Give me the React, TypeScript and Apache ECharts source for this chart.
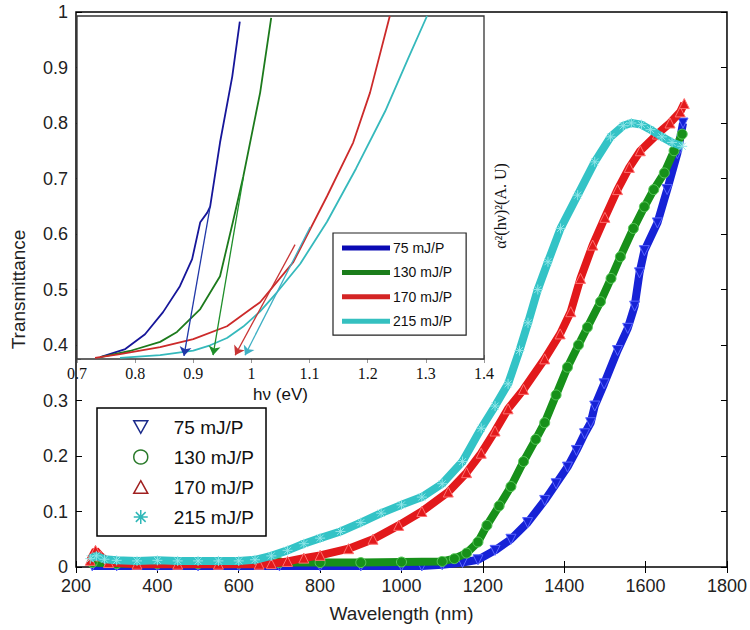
import React, { useEffect, useRef } from "react";
import * as echarts from "echarts";

// ---------- main plot: transmittance vs wavelength ----------
const mainNames = ["75 mJ/P", "130 mJ/P", "170 mJ/P", "215 mJ/P"];

const t75: [number, number][] = [
  [240, 0.002], [300, 0.002], [400, 0.002], [500, 0.002], [600, 0.002], [700, 0.002],
  [800, 0.002], [900, 0.002], [1000, 0.002], [1050, 0.002], [1100, 0.004], [1150, 0.008],
  [1188, 0.013], [1230, 0.03], [1269, 0.05], [1310, 0.08], [1352, 0.12], [1380, 0.15],
  [1408, 0.18], [1430, 0.21], [1450, 0.24], [1465, 0.26], [1475, 0.29], [1498, 0.33],
  [1531, 0.39], [1556, 0.43], [1573, 0.47], [1585, 0.53], [1597, 0.57], [1629, 0.62],
  [1653, 0.68], [1678, 0.745], [1692, 0.8],
];
const t130: [number, number][] = [
  [240, 0.008], [300, 0.006], [400, 0.006], [500, 0.006], [600, 0.007], [700, 0.008],
  [800, 0.008], [900, 0.008], [1000, 0.009], [1100, 0.01], [1130, 0.015], [1160, 0.025],
  [1188, 0.045], [1210, 0.075], [1240, 0.11], [1269, 0.145], [1300, 0.19], [1330, 0.23],
  [1352, 0.26], [1380, 0.31], [1408, 0.36], [1435, 0.4], [1457, 0.432], [1489, 0.478],
  [1515, 0.52], [1538, 0.559], [1570, 0.61], [1597, 0.649], [1620, 0.68], [1646, 0.71],
  [1670, 0.75], [1690, 0.78],
];
const t170: [number, number][] = [
  [235, 0.012], [248, 0.03], [260, 0.02], [280, 0.008], [350, 0.005], [450, 0.005],
  [550, 0.005], [650, 0.005], [680, 0.006], [720, 0.01], [760, 0.016], [800, 0.021],
  [870, 0.033], [930, 0.05], [993, 0.075], [1050, 0.1], [1115, 0.135], [1160, 0.17],
  [1196, 0.205], [1230, 0.245], [1262, 0.285], [1300, 0.32], [1352, 0.375], [1390, 0.42],
  [1416, 0.46], [1440, 0.52], [1470, 0.58], [1500, 0.63], [1531, 0.68], [1560, 0.72],
  [1587, 0.75], [1629, 0.78], [1660, 0.8], [1685, 0.82], [1695, 0.835],
];
const t215: [number, number][] = [
  [235, 0.015], [250, 0.02], [270, 0.014], [300, 0.012], [350, 0.011], [400, 0.012],
  [450, 0.011], [500, 0.011], [550, 0.011], [600, 0.011], [640, 0.013], [680, 0.02],
  [720, 0.03], [760, 0.042], [800, 0.052], [850, 0.064], [900, 0.08], [950, 0.097],
  [1000, 0.112], [1050, 0.126], [1100, 0.15], [1150, 0.19], [1196, 0.25], [1230, 0.29],
  [1262, 0.33], [1290, 0.39], [1311, 0.44], [1335, 0.5], [1360, 0.55], [1391, 0.61],
  [1433, 0.67], [1475, 0.73], [1514, 0.775], [1545, 0.795], [1565, 0.8], [1590, 0.797],
  [1612, 0.788], [1640, 0.775], [1665, 0.765], [1690, 0.758],
];
const mainData = [t75, t130, t170, t215];

// ---------- inset: alpha^2 (h nu)^2 vs photon energy ----------
const insetNames = ["i75 mJ/P", "i130 mJ/P", "i170 mJ/P", "i215 mJ/P"];
const a75: [number, number][] = [
  [0.74, 0.05], [0.783, 0.26], [0.817, 0.65], [0.848, 1.23], [0.877, 1.91], [0.898, 2.62],
  [0.912, 3.59], [0.924, 3.84], [0.929, 4.0], [0.946, 5.68], [0.967, 7.41], [0.98, 8.85],
];
const a130: [number, number][] = [
  [0.74, 0.05], [0.791, 0.21], [0.843, 0.45], [0.872, 0.71], [0.912, 1.31], [0.946, 2.17],
  [0.968, 3.59], [0.986, 4.79], [1.015, 6.99], [1.034, 8.95],
];
const a170: [number, number][] = [
  [0.731, 0.03], [0.774, 0.13], [0.843, 0.31], [0.9, 0.52], [0.958, 0.86], [1.015, 1.49],
  [1.072, 2.54], [1.13, 4.27], [1.175, 5.68], [1.204, 6.99], [1.238, 9.0],
];
const a215: [number, number][] = [
  [0.774, 0.03], [0.843, 0.1], [0.9, 0.22], [0.929, 0.36], [0.958, 0.55], [0.986, 0.85],
  [1.015, 1.25], [1.044, 1.75], [1.084, 2.5], [1.13, 3.6], [1.18, 5.0], [1.23, 6.5],
  [1.27, 7.9], [1.302, 9.0],
];
const insetData = [a75, a130, a170, a215];

// tangent (band-gap) arrows: [start, end]
const arrows: [number, number][][] = [
  [[0.929, 4.0], [0.884, 0.08]],
  [[0.986, 4.76], [0.934, 0.1]],
  [[1.075, 3.0], [0.972, 0.1]],
  [[1.101, 3.46], [0.989, 0.1]],
];

const mainColors = ["#1622d6", "#17901a", "#e2191b", "#33c3c6"];
const mainBorders = ["#5a66ff", "#58c95a", "#ff7070", "#8fe6e8"];
const legendIconColors = ["#1a2a8a", "#2a7a2a", "#a02020", "#30b8b8"];
const insetColors = ["#16169a", "#1c7a1c", "#cc2a2a", "#35b9bc"];
const insetLegendColors = ["#0a0ab4", "#1b7d1b", "#d42424", "#35c0c0"];
const arrowColors = ["#2038a8", "#1f8f2a", "#c83434", "#3fb0c4"];

const triDown = "path://M0,0L10,0L5,9Z";
const triUp = "path://M5,0L10,9L0,9Z";
const star = "path://M5,0L5,10M0,5L10,5M1.5,1.5L8.5,8.5M8.5,1.5L1.5,8.5";
const mainSymbols = [triDown, "circle", triUp, star];

const SANS = "Liberation Sans, Arial, sans-serif";
const SERIF = "Liberation Serif, Times New Roman, serif";

export default function App() {
  const ref = useRef<HTMLDivElement>(null);
  useEffect(() => {
    document.body.style.margin = "0";
    if (!ref.current) return;
    const chart = echarts.init(ref.current, undefined, { renderer: "svg" });

    const mainSeries = mainData.map((d, i) => ({
      name: mainNames[i],
      type: "line",
      xAxisIndex: 0,
      yAxisIndex: 0,
      data: d,
      z: 3 + i,
      symbol: mainSymbols[i],
      symbolSize: 10,
      showAllSymbol: true,
      lineStyle: { color: mainColors[i], width: 8 },
      itemStyle: { color: mainColors[i], borderColor: mainBorders[i], borderWidth: 1 },
      emphasis: { disabled: true },
      silent: true,
    }));

    const insetSeries = insetData.map((d, i) => ({
      name: insetNames[i],
      type: "line",
      xAxisIndex: 2,
      yAxisIndex: 2,
      data: d,
      z: 10,
      showSymbol: false,
      lineStyle: { color: insetColors[i], width: 1.8 },
      itemStyle: { color: insetLegendColors[i] },
      emphasis: { disabled: true },
      silent: true,
    }));

    const arrowSeries = {
      type: "lines",
      coordinateSystem: "cartesian2d",
      xAxisIndex: 2,
      yAxisIndex: 2,
      z: 11,
      symbol: ["none", "arrow"],
      symbolSize: 9,
      silent: true,
      data: arrows.map((c, i) => ({
        coords: c,
        lineStyle: { color: arrowColors[i], width: 1.3, opacity: 1 },
      })),
    };

    const tickCommon = { inside: true, length: 6, lineStyle: { color: "#000", width: 1 } };
    const insetTick = { inside: true, length: 4, lineStyle: { color: "#999", width: 1 } };
    const plain = (v: number) => String(v);

    const option: any = {
      animation: false,
      backgroundColor: "#fff",
      grid: [
        { left: 76, right: 20, top: 12, bottom: 63, show: true, borderColor: "#000", borderWidth: 1.5, backgroundColor: "#fff", z: 0 },
        { left: 77, right: 266, top: 16, bottom: 271, show: true, borderColor: "#333", borderWidth: 1.3, backgroundColor: "#fff", z: 1 },
      ],
      xAxis: [
        {
          gridIndex: 0, type: "value", min: 200, max: 1800, interval: 200, position: "bottom",
          axisLine: { show: false }, axisTick: tickCommon, splitLine: { show: false },
          axisLabel: { fontSize: 18, color: "#222", margin: 10, fontFamily: SANS, formatter: plain },
          name: "Wavelength (nm)", nameLocation: "middle", nameGap: 37,
          nameTextStyle: { fontSize: 19, color: "#222", fontFamily: SANS },
        },
        {
          gridIndex: 0, type: "value", min: 200, max: 1800, interval: 200, position: "top",
          axisLine: { show: false }, axisTick: tickCommon, splitLine: { show: false },
          axisLabel: { show: false },
        },
        {
          gridIndex: 1, type: "value", min: 0.7, max: 1.4, interval: 0.1, position: "bottom",
          axisLine: { show: false }, axisTick: insetTick, splitLine: { show: false },
          axisLabel: { fontSize: 16, color: "#111", margin: 6, fontFamily: SERIF, formatter: plain },
          name: "hν (eV)", nameLocation: "middle", nameGap: 26,
          nameTextStyle: { fontSize: 17, color: "#111", fontFamily: SANS },
        },
        {
          gridIndex: 1, type: "value", min: 0.7, max: 1.4, interval: 0.1, position: "top",
          axisLine: { show: false }, axisTick: insetTick, splitLine: { show: false },
          axisLabel: { show: false },
        },
      ],
      yAxis: [
        {
          gridIndex: 0, type: "value", min: 0, max: 1, interval: 0.1, position: "left",
          axisLine: { show: false }, axisTick: tickCommon, splitLine: { show: false },
          axisLabel: { fontSize: 18, color: "#222", margin: 8, fontFamily: SANS, formatter: plain },
          name: "Transmittance", nameLocation: "middle", nameGap: 48, nameRotate: 90,
          nameTextStyle: { fontSize: 19, color: "#222", fontFamily: SANS },
        },
        {
          gridIndex: 0, type: "value", min: 0, max: 1, interval: 0.1, position: "right",
          axisLine: { show: false }, axisTick: tickCommon, splitLine: { show: false },
          axisLabel: { show: false },
        },
        {
          gridIndex: 1, type: "value", min: 0, max: 9, interval: 1, position: "left",
          axisLine: { show: false }, axisTick: insetTick, splitLine: { show: false },
          axisLabel: { show: false },
        },
        {
          gridIndex: 1, type: "value", min: 0, max: 9, interval: 1, position: "right",
          axisLine: { show: false }, axisTick: insetTick, splitLine: { show: false },
          axisLabel: { show: false },
        },
      ],
      legend: [
        {
          data: mainNames.map((n, i) => ({
            name: n,
            icon: mainSymbols[i],
            itemStyle: { color: "#fff", borderColor: legendIconColors[i], borderWidth: 1.5 },
          })),
          orient: "vertical", left: 97, top: 408, padding: [9, 12, 9, 36],
          itemWidth: 14, itemHeight: 14, itemGap: 10,
          textStyle: { fontSize: 19, lineHeight: 20, color: "#111", fontFamily: SANS, padding: [0, 0, 0, 21] },
          borderColor: "#000", borderWidth: 1.5, backgroundColor: "#fff", selectedMode: false,
        },
        {
          data: insetNames.map((n, i) => ({
            name: n,
            icon: "rect",
            itemStyle: { color: insetLegendColors[i], borderWidth: 0 },
          })),
          formatter: (n: string) => n.slice(1),
          orient: "vertical", left: 333, top: 233, padding: [7, 14, 6, 9],
          itemWidth: 48, itemHeight: 5, itemGap: 8.4,
          textStyle: { fontSize: 14, lineHeight: 16, color: "#111", fontFamily: SANS, padding: [0, 0, 0, -2] },
          borderColor: "#222", borderWidth: 1.2, backgroundColor: "#fff", selectedMode: false, z: 20,
        },
      ],
      graphic: [
        {
          type: "text", x: 500, y: 206, rotation: Math.PI / 2, z: 30,
          style: {
            text: "α²(hν)²(A. U)", fontSize: 16, fontFamily: SERIF, fill: "#111",
            align: "center", verticalAlign: "middle",
          },
        },
      ],
      series: [...mainSeries, ...insetSeries, arrowSeries],
    };
    chart.setOption(option);
    return () => chart.dispose();
  }, []);
  return <div ref={ref} style={{ position: "absolute", left: 0, top: 0, width: 750, height: 630 }} />;
}
